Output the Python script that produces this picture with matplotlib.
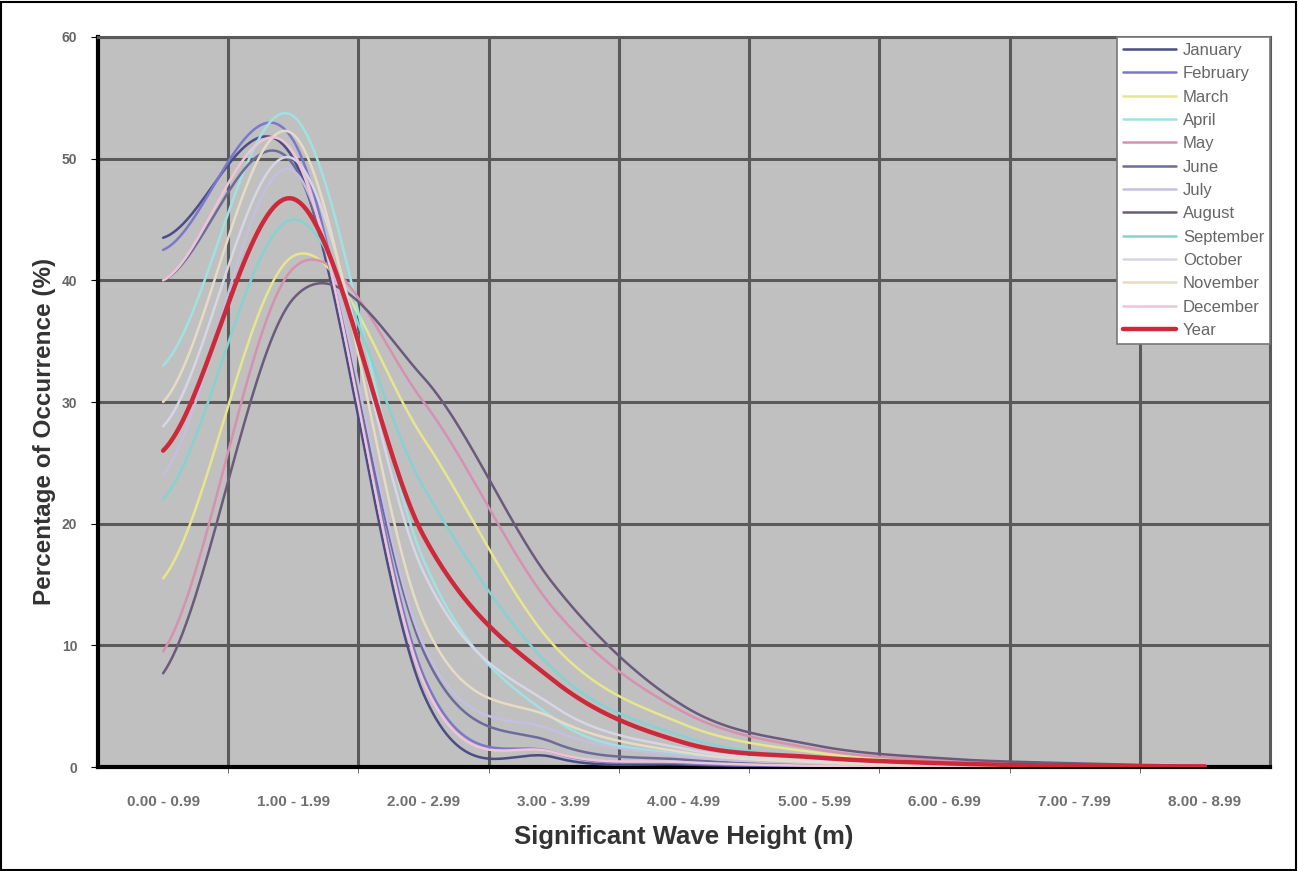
import numpy as np
import matplotlib
matplotlib.use("Agg")
import matplotlib.pyplot as plt
from matplotlib.patches import Rectangle

# wave height bins (m)
bins = ["0.00 - 0.99", "1.00 - 1.99", "2.00 - 2.99", "3.00 - 3.99", "4.00 - 4.99",
        "5.00 - 5.99", "6.00 - 6.99", "7.00 - 7.99", "8.00 - 8.99"]

# percentage of occurrence per bin
january   = [43.5, 50.0, 6.0, 0.8, 0.2, 0.05, 0.0, 0.0, 0.0]
february  = [42.5, 51.5, 7.5, 1.2, 0.3, 0.1, 0.0, 0.0, 0.0]
march     = [15.5, 42.0, 27.0, 10.0, 3.5, 1.2, 0.4, 0.1, 0.0]
april     = [33.0, 53.5, 17.0, 4.0, 1.0, 0.3, 0.05, 0.0, 0.0]
may       = [9.5, 41.0, 30.0, 13.0, 4.5, 1.5, 0.5, 0.1, 0.0]
june      = [40.0, 49.5, 9.5, 2.0, 0.6, 0.2, 0.05, 0.0, 0.0]
july      = [24.0, 49.0, 10.0, 3.0, 0.9, 0.3, 0.1, 0.0, 0.0]
august    = [7.7, 38.5, 32.0, 15.0, 5.0, 1.8, 0.7, 0.3, 0.1]
september = [22.0, 45.0, 23.0, 8.0, 2.5, 0.8, 0.3, 0.1, 0.0]
october   = [28.0, 50.0, 16.0, 5.0, 1.5, 0.5, 0.1, 0.0, 0.0]
november  = [30.0, 52.0, 12.0, 4.0, 1.2, 0.4, 0.1, 0.0, 0.0]
december  = [40.0, 50.5, 7.0, 1.2, 0.4, 0.1, 0.0, 0.0, 0.0]
year      = [26.0, 46.7, 19.0, 7.1, 2.0, 0.8, 0.3, 0.1, 0.05]

names = ["January", "February", "March", "April", "May", "June", "July",
         "August", "September", "October", "November", "December", "Year"]
series = [january, february, march, april, may, june, july, august,
          september, october, november, december, year]
colors = ["#4c4c86", "#7a78cc", "#e6e68c", "#9fe2e2", "#d890b0", "#6c6c9c",
          "#c6bee0", "#6a5a7c", "#86d2d2", "#d6d6e6", "#e6dcc4", "#efc4d6",
          "#cc2a3a"]


def smooth(y, n=40):
    # excel-like smoothed line (catmull-rom through the points)
    y = np.asarray(y, float)
    p = np.concatenate([[y[0]], y, [y[-1]]])
    xs, ys = [], []
    t = np.linspace(0, 1, n, endpoint=False)
    for i in range(len(y) - 1):
        p0, p1, p2, p3 = p[i], p[i + 1], p[i + 2], p[i + 3]
        m1 = (p2 - p0) / 2
        m2 = (p3 - p1) / 2
        h00 = 2 * t**3 - 3 * t**2 + 1
        h10 = t**3 - 2 * t**2 + t
        h01 = -2 * t**3 + 3 * t**2
        h11 = t**3 - t**2
        xs.append(i + t)
        ys.append(h00 * p1 + h10 * m1 + h01 * p2 + h11 * m2)
    xs.append([len(y) - 1])
    ys.append([y[-1]])
    return np.concatenate(xs), np.concatenate(ys)


plt.rcParams["font.family"] = ["Liberation Sans", "DejaVu Sans"]

fig = plt.figure(figsize=(12.99, 8.71), dpi=100)
ax = fig.add_axes([98 / 1299, 1 - 767 / 871, (1270 - 98) / 1299, (767 - 37) / 871])
ax.set_facecolor("#c0c0c0")

x = np.arange(len(bins))
for name, vals, col in zip(names, series, colors):
    sx, sy = smooth(vals)
    lw = 3.2 if name == "Year" else 1.8
    ax.plot(sx, sy, color=col, lw=lw, label=name, solid_capstyle="round",
            zorder=4 if name == "Year" else 3)

ax.set_xlim(-0.5, len(bins) - 0.5)
ax.set_ylim(0, 60)
ax.set_xticks(x)
ax.set_xticklabels(bins, fontsize=11, fontweight="bold", color="#707070")
ax.set_xticks(np.arange(0.5, len(bins) - 0.5, 1), minor=True)
ax.tick_params(axis="x", which="major", length=0, pad=20)
ax.tick_params(axis="x", which="minor", length=4, color="#555555")
ax.set_yticks(np.arange(0, 61, 10))
ax.tick_params(axis="y", labelsize=10, labelcolor="#666666", length=5, pad=10)
for lab in ax.get_yticklabels():
    lab.set_fontweight("bold")

ax.grid(True, which="minor", axis="x", color="#5a5a5a", lw=2.2)
ax.grid(True, which="major", axis="y", color="#5a5a5a", lw=2.2)
ax.set_axisbelow(True)

for side in ["left", "bottom"]:
    ax.spines[side].set_color("black")
    ax.spines[side].set_linewidth(3)
for side in ["top", "right"]:
    ax.spines[side].set_color("#5a5a5a")
    ax.spines[side].set_linewidth(2.2)

ax.set_xlabel("Significant Wave Height (m)", fontsize=18.5, fontweight="bold",
              color="#333333", labelpad=12)
ax.set_ylabel("Percentage of Occurrence (%)", fontsize=17.5, fontweight="bold",
              color="#333333")
ax.yaxis.set_label_coords(-0.036, 0.46)

leg = ax.legend(loc="upper right", fontsize=12, labelspacing=0.5,
                handlelength=3.2, handletextpad=0.4, borderpad=0.35,
                borderaxespad=0, fancybox=False, framealpha=1,
                edgecolor="#777777")
leg.get_frame().set_linewidth(1.2)
for t in leg.get_texts():
    t.set_color("#666666")

# outer border of the picture
fig.patches.append(Rectangle((0.001, 0.001), 0.997, 0.997, transform=fig.transFigure,
                             fill=False, edgecolor="black", lw=1.5))

fig.savefig("out.png", dpi=100)
